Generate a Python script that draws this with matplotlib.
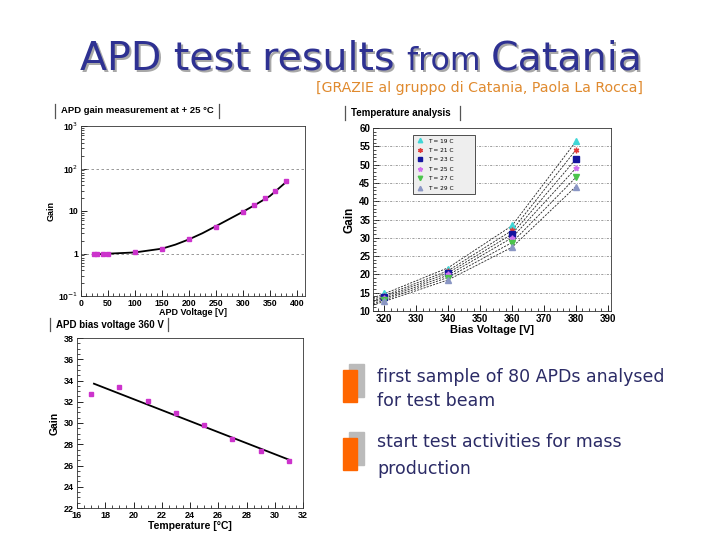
import matplotlib
matplotlib.use("Agg")
import matplotlib.pyplot as plt
from matplotlib.lines import Line2D
from matplotlib.patches import Rectangle
from matplotlib.ticker import MultipleLocator, FixedLocator, FixedFormatter, NullFormatter
import numpy as np

# ---------------- data ----------------
# Plot 1: APD gain vs voltage at +25 C
p1_voltage = [25, 30, 40, 50, 100, 150, 200, 250, 300, 320, 340, 360, 380]
p1_gain = [0.95, 0.97, 0.98, 1.0, 1.07, 1.3, 2.2, 4.3, 9.5, 14, 20, 30, 50]
p1_fit_voltage = [25, 50, 100, 150, 175, 200, 225, 250, 275, 300, 325, 350, 380]
p1_fit_gain = [0.95, 0.99, 1.06, 1.3, 1.62, 2.15, 3.0, 4.4, 6.5, 9.6, 14.5, 22.5, 48]
p1_yticks = [0.1, 1, 10, 100, 1000]
p1_yticklabels = ["10$^{-1}$", "1", "10", "10$^{2}$", "10$^{3}$"]

# Plot 2: temperature analysis
p2_voltage = [320, 340, 360, 380]
p2_labels = ["T = 19 C", "T = 21 C", "T = 23 C", "T = 25 C", "T = 27 C", "T = 29 C"]
p2_gain = [
    [14.8, 21.5, 33.5, 56.5],
    [14.2, 20.8, 32.0, 54.0],
    [13.8, 20.3, 31.0, 51.5],
    [13.5, 20.0, 30.0, 49.0],
    [13.0, 19.0, 28.5, 46.5],
    [12.8, 18.5, 27.5, 44.0],
]
p2_fit_voltage = [316.5, 320, 340, 360, 380]
p2_fit_gain = [
    [13.6, 14.7, 21.8, 33.3, 56.3],
    [13.2, 14.2, 21.0, 32.0, 54.0],
    [12.8, 13.8, 20.4, 31.0, 51.5],
    [12.4, 13.4, 19.8, 30.0, 49.0],
    [12.0, 13.0, 19.2, 28.7, 46.5],
    [11.6, 12.6, 18.5, 27.4, 44.0],
]
p2_colors = ["#3FD6D6", "#E03A3A", "#14149E", "#D070F0", "#4CC44C", "#8A96C4"]
p2_markers = ["^", (6, 2, 0), "s", (5, 1, 0), "v", "^"]

# Plot 3: APD gain vs temperature at 360 V
p3_temp = [17, 19, 21, 23, 25, 27, 29, 31]
p3_gain = [32.7, 33.4, 32.1, 30.9, 29.8, 28.5, 27.4, 26.4]
p3_fit_temp = [17.2, 31.0]
p3_fit_gain = [33.7, 26.55]

# ---------------- figure ----------------
W, H = 720, 540
fig = plt.figure(figsize=(7.2, 5.4), dpi=100)
fig.patch.set_facecolor("white")

def ax_rect(l, t, r, b):
    return [l / W, 1 - b / H, (r - l) / W, (b - t) / H]

def fx(x):
    return x / W

def fy(y):
    return 1 - y / H

magenta = "#CC33CC"
tick_font = "Liberation Sans"

def root_style(ax, size=6, bold=False):
    ax.tick_params(which="both", direction="in", top=False, right=False)
    ax.tick_params(which="major", length=4, width=0.6, labelsize=size, pad=2)
    ax.tick_params(which="minor", length=2, width=0.5)
    for lab in ax.get_xticklabels() + ax.get_yticklabels():
        lab.set_family(tick_font)
        if bold:
            lab.set_fontweight("bold")
    for s in ax.spines.values():
        s.set_linewidth(0.6)
        s.set_color("#333333")

def title_box(text, l, t, r, b, size=7):
    fig.text(fx(l + 6), fy((t + b) / 2), text, fontsize=size, fontweight="bold",
             family=tick_font, va="center", ha="left")
    for xx in (l, r):
        fig.add_artist(Line2D([fx(xx), fx(xx)], [fy(t), fy(b)], color="#555555", lw=0.9))

# ---- Plot 1 ----
ax1 = fig.add_axes(ax_rect(81, 126, 305, 296))
ax1.set_yscale("log")
ax1.set_xlim(0, 415)
ax1.set_ylim(0.1, 1000)
for g in (1, 100):
    ax1.axhline(g, color="#888888", lw=0.6, ls=(0, (3, 3)))
ax1.plot(p1_fit_voltage, p1_fit_gain, color="black", lw=1.3, zorder=3)
ax1.plot(p1_voltage, p1_gain, ls="none", marker="s", ms=3.2, color=magenta, mec=magenta, zorder=4)
ax1.xaxis.set_major_locator(MultipleLocator(50))
ax1.xaxis.set_minor_locator(MultipleLocator(10))
ax1.yaxis.set_major_locator(FixedLocator(p1_yticks))
ax1.yaxis.set_major_formatter(FixedFormatter(p1_yticklabels))
ax1.yaxis.set_minor_formatter(NullFormatter())
root_style(ax1, size=6.3, bold=True)
ax1.set_xlabel("APD Voltage [V]", fontsize=6.5, fontweight="bold", family=tick_font, labelpad=0)
ax1.set_ylabel("Gain", fontsize=6.5, fontweight="bold", family=tick_font, labelpad=2)
title_box("APD gain measurement at + 25 °C", 55, 104, 219, 118, size=6.8)

# ---- Plot 2 ----
ax2 = fig.add_axes(ax_rect(373, 128, 611, 311))
ax2.set_xlim(316.5, 391)
ax2.set_ylim(10, 60)
for g in range(15, 60, 5):
    ax2.axhline(g, color="#777777", lw=0.5, ls=(0, (3, 2, 1, 2)))
for fit in p2_fit_gain:
    ax2.plot(p2_fit_voltage, fit, color="#222222", lw=0.6, ls=(0, (2.5, 1.5)), zorder=3)
for vals, lab, c, m in zip(p2_gain, p2_labels, p2_colors, p2_markers):
    ax2.plot(p2_voltage, vals, ls="none", marker=m, ms=4, color=c, mec=c, label=lab, zorder=4)
ax2.xaxis.set_major_locator(MultipleLocator(10))
ax2.xaxis.set_minor_locator(MultipleLocator(2))
ax2.yaxis.set_major_locator(MultipleLocator(5))
ax2.yaxis.set_minor_locator(MultipleLocator(1))
root_style(ax2, size=7, bold=True)
ax2.set_xlabel("Bias Voltage [V]", fontsize=8, fontweight="bold", family=tick_font, labelpad=1)
ax2.set_ylabel("Gain", fontsize=8.5, fontweight="bold", family=tick_font, labelpad=3)
leg = ax2.legend(loc="upper left", bbox_to_anchor=(0.155, 0.672, 0.286, 0.306), mode="expand",
                 fontsize=4.2, frameon=True, fancybox=False, edgecolor="#333333",
                 facecolor="#EEEEEE", framealpha=1, handlelength=1.2, handletextpad=0.8,
                 borderpad=0.6, labelspacing=0.75, markerscale=0.8)
leg.get_frame().set_linewidth(0.6)
title_box("Temperature analysis", 345, 106, 460, 120, size=7)

# ---- Plot 3 ----
ax3 = fig.add_axes(ax_rect(77, 338, 303, 508))
ax3.set_xlim(16, 32)
ax3.set_ylim(22, 38)
ax3.plot(p3_fit_temp, p3_fit_gain, color="black", lw=1.3, zorder=3)
ax3.plot(p3_temp, p3_gain, ls="none", marker="s", ms=3.2, color=magenta, mec=magenta, zorder=4)
ax3.xaxis.set_major_locator(MultipleLocator(2))
ax3.xaxis.set_minor_locator(MultipleLocator(0.5))
ax3.yaxis.set_major_locator(MultipleLocator(2))
ax3.yaxis.set_minor_locator(MultipleLocator(0.5))
root_style(ax3, size=6.5, bold=True)
ax3.set_xlabel("Temperature [°C]", fontsize=7.5, fontweight="bold", family=tick_font, labelpad=1)
ax3.set_ylabel("Gain", fontsize=7.5, fontweight="bold", family=tick_font, labelpad=3)
title_box("APD bias voltage 360 V", 50, 318, 168, 331, size=7)

# ---- Slide title ----
title_color = "#2E3192"
shadow = "#A8A8A8"
title_font = "DejaVu Sans"
parts = [("APD test results ", 1.0), ("from ", 0.8), ("Catania", 1.0)]
renderer = fig.canvas.get_renderer()
base = 34
# measure width and scale so the title spans ~560 px
total = 0
for txt, f in parts:
    t = fig.text(0, 0, txt, fontsize=base * f, family=title_font)
    total += t.get_window_extent(renderer=renderer).width
    t.remove()
scale = min(1.0, 562 / total)
x0 = 80
for txt, f in parts:
    sz = base * f * scale
    fig.text(fx(x0 + 2), fy(72), txt, fontsize=sz, color=shadow,
             family=title_font, va="baseline", ha="left", zorder=1)
    tm = fig.text(fx(x0), fy(70), txt, fontsize=sz, color=title_color,
                  family=title_font, va="baseline", ha="left", zorder=2)
    x0 += tm.get_window_extent(renderer=renderer).width

fig.text(fx(316), fy(88), "[GRAZIE al gruppo di Catania, Paola La Rocca]", fontsize=10.2,
         color="#E08A2E", family="DejaVu Sans", va="center", ha="left")

# ---- Bullets ----
text_color = "#2B2B66"
bullets = [
    (370, ["first sample of 80 APDs analysed", "for test beam"], [377, 401]),
    (438, ["start test activities for mass", "production"], [442, 469]),
]
for top, lines, ys in bullets:
    fig.add_artist(Rectangle((fx(349), fy(top + 27)), 15 / W, 33 / H, color="#BBBBBB",
                             transform=fig.transFigure, zorder=1))
    fig.add_artist(Rectangle((fx(343), fy(top + 32)), 14 / W, 32 / H, color="#FF6600",
                             transform=fig.transFigure, zorder=2))
    for line, y in zip(lines, ys):
        fig.text(fx(377), fy(y), line, fontsize=12.5, color=text_color,
                 family="DejaVu Sans", va="center", ha="left")

fig.savefig("out.png", dpi=100)
